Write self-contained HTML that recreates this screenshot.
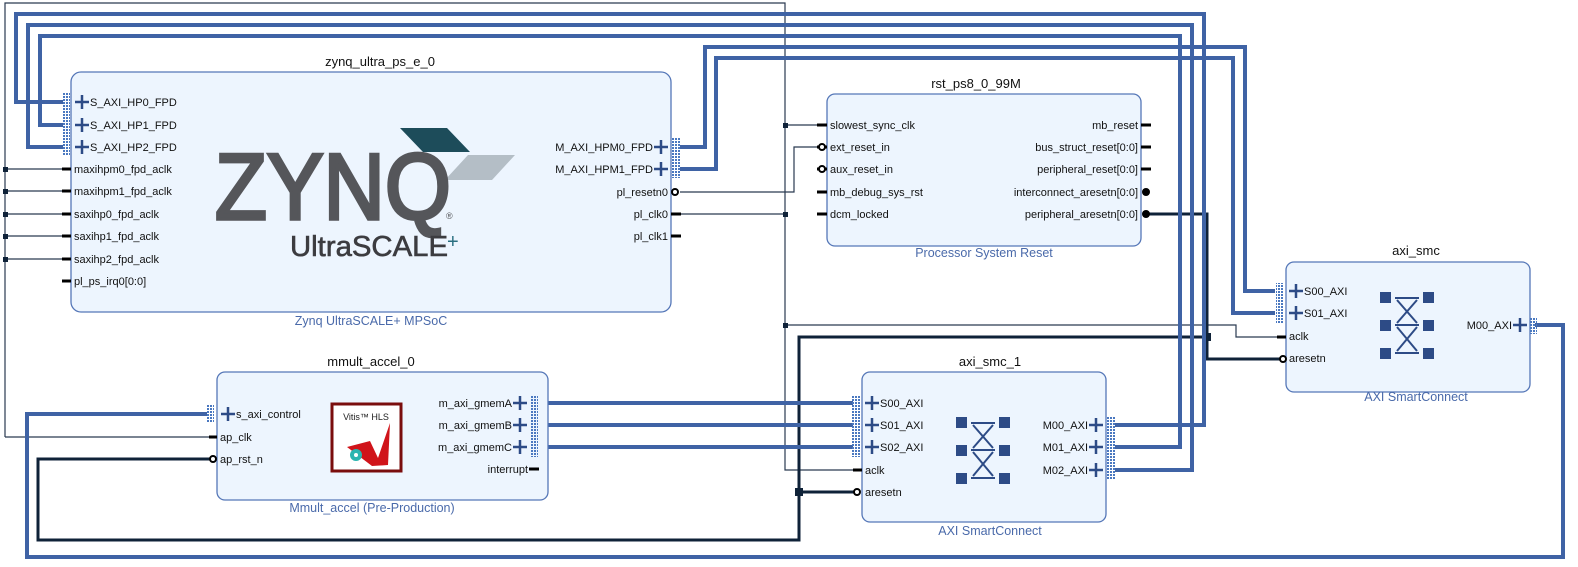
<!DOCTYPE html>
<html><head><meta charset="utf-8"><style>
html,body{margin:0;padding:0;background:#fff;}
svg{display:block;font-family:"Liberation Sans",sans-serif;}
.t{font-size:11px;fill:#111;}
.ti{font-size:13px;fill:#111;text-anchor:middle;}
.st{font-size:12.5px;fill:#4a6aaa;text-anchor:middle;}
.box{fill:#edf5fe;stroke:#5577b8;stroke-width:1.3;}
.bus{fill:none;stroke:#3f63a5;stroke-width:4;}
.thin{fill:none;stroke:#2a3a50;stroke-width:1.2;}
.thick{fill:none;stroke:#0f2238;stroke-width:3;}
.pl{stroke:#2d4b86;stroke-width:2.5;}
.stub{stroke:#000;stroke-width:3;}
</style></head><body>
<svg width="1578" height="567" viewBox="0 0 1578 567">
<defs>
<pattern id="dots" width="3" height="3" patternUnits="userSpaceOnUse"><rect width="2" height="2" fill="#4a78c0"/></pattern>
<g id="plus"><line class="pl" x1="-7" y1="0" x2="7" y2="0"/><line class="pl" x1="0" y1="-7" x2="0" y2="7"/></g>
</defs>

<path class="thin" d="M5,437 V3 H785 V470 H862"/>
<path class="thin" d="M5,169 H71 M5,191 H71 M5,214 H71 M5,236 H71 M5,259 H71 M5,437 H217"/>
<path class="thin" d="M675,214 H785 M785,125 H827 M785,325 H1236 V337 H1286"/>
<path class="thin" d="M680,192 H794 V147 H822"/>
<g fill="#0f2238">
<rect x="3" y="167" width="5" height="5"/><rect x="3" y="189" width="5" height="5"/><rect x="3" y="212" width="5" height="5"/><rect x="3" y="234" width="5" height="5"/><rect x="3" y="257" width="5" height="5"/>
<rect x="783" y="123" width="5" height="5"/><rect x="783" y="212" width="5" height="5"/><rect x="783" y="323" width="5" height="5"/>
</g>

<path class="thick" d="M1146,214 H1207 V359 H1283"/>
<path class="thick" d="M1207,337 H799 V540 H38 V459 H212"/>
<path class="thick" d="M799,492 H857"/>
<rect x="1203" y="333" width="8" height="8" fill="#0f2238"/>
<rect x="795" y="488" width="8" height="8" fill="#0f2238"/>

<path class="bus" d="M63,102 H16 V14 H1204 V425 H1115"/>
<path class="bus" d="M63,147 H28 V25 H1192 V470 H1115"/>
<path class="bus" d="M63,125 H40 V36 H1180 V447 H1115"/>
<path class="bus" d="M680,147 H705 V47 H1245 V291 H1275"/>
<path class="bus" d="M680,169 H716 V58 H1233 V313 H1275"/>
<path class="bus" d="M1535,325 H1563 V557 H27 V414 H207"/>
<path class="bus" d="M537,403 H853 M537,425 H853 M537,447 H853"/>

<text class="ti" x="380" y="66">zynq_ultra_ps_e_0</text>
<rect class="box" x="71" y="72" width="600" height="240" rx="10"/>
<text class="st" x="371" y="325">Zynq UltraSCALE+ MPSoC</text>
<rect x="62" y="93" width="8" height="63" fill="url(#dots)"/>
<use href="#plus" x="82" y="102"/><use href="#plus" x="82" y="125"/><use href="#plus" x="82" y="147"/>
<text class="t" x="90" y="106">S_AXI_HP0_FPD</text>
<text class="t" x="90" y="129">S_AXI_HP1_FPD</text>
<text class="t" x="90" y="151">S_AXI_HP2_FPD</text>
<g class="stub"><line x1="62" y1="169" x2="71" y2="169"/><line x1="62" y1="191" x2="71" y2="191"/><line x1="62" y1="214" x2="71" y2="214"/><line x1="62" y1="236" x2="71" y2="236"/><line x1="62" y1="259" x2="71" y2="259"/><line x1="62" y1="281" x2="71" y2="281"/></g>
<text class="t" x="74" y="173">maxihpm0_fpd_aclk</text>
<text class="t" x="74" y="195">maxihpm1_fpd_aclk</text>
<text class="t" x="74" y="218">saxihp0_fpd_aclk</text>
<text class="t" x="74" y="240">saxihp1_fpd_aclk</text>
<text class="t" x="74" y="263">saxihp2_fpd_aclk</text>
<text class="t" x="74" y="285">pl_ps_irq0[0:0]</text>
<g text-anchor="end">
<text class="t" x="653" y="151">M_AXI_HPM0_FPD</text>
<text class="t" x="653" y="173">M_AXI_HPM1_FPD</text>
<text class="t" x="668" y="196">pl_resetn0</text>
<text class="t" x="668" y="218">pl_clk0</text>
<text class="t" x="668" y="240">pl_clk1</text>
</g>
<use href="#plus" x="661" y="147"/><use href="#plus" x="661" y="169"/>
<rect x="672" y="138" width="8" height="40" fill="url(#dots)"/>
<circle cx="675" cy="192" r="3" fill="#fff" stroke="#000" stroke-width="2"/>
<g class="stub"><line x1="671" y1="214" x2="681" y2="214"/><line x1="671" y1="236" x2="681" y2="236"/></g>
<polygon points="400,128 447,128 470,152 423,152" fill="#1d4c5a"/>
<polygon points="468,155 515,155 492,180 445,180" fill="#b4bec6"/>
<text x="215" y="219" font-size="94" fill="#55565a" stroke="#55565a" stroke-width="3.5" textLength="236" lengthAdjust="spacingAndGlyphs">ZYNQ</text>
<text x="446" y="219" font-size="9" fill="#55565a">®</text>
<text x="290" y="256" font-size="29" fill="#3c3c40" stroke="#3c3c40" stroke-width="0.6" textLength="158" lengthAdjust="spacingAndGlyphs">UltraSCALE</text>
<text x="447" y="248" font-size="20" fill="#2a6f80">+</text>

<text class="ti" x="976" y="88">rst_ps8_0_99M</text>
<rect class="box" x="827" y="94" width="314" height="152" rx="8"/>
<text class="st" x="984" y="257">Processor System Reset</text>
<g class="stub"><line x1="817" y1="125" x2="827" y2="125"/><line x1="817" y1="169" x2="827" y2="169"/><line x1="817" y1="192" x2="827" y2="192"/><line x1="817" y1="214" x2="827" y2="214"/>
<line x1="1141" y1="125" x2="1151" y2="125"/><line x1="1141" y1="147" x2="1151" y2="147"/><line x1="1141" y1="169" x2="1151" y2="169"/></g>
<line x1="817" y1="147" x2="827" y2="147" class="stub"/>
<circle cx="822" cy="147" r="3" fill="#fff" stroke="#000" stroke-width="2"/>
<circle cx="822" cy="169" r="3" fill="#fff" stroke="#000" stroke-width="2"/>
<circle cx="1146" cy="192" r="4" fill="#000"/><circle cx="1146" cy="214" r="4" fill="#000"/>
<text class="t" x="830" y="129">slowest_sync_clk</text>
<text class="t" x="830" y="151">ext_reset_in</text>
<text class="t" x="830" y="173">aux_reset_in</text>
<text class="t" x="830" y="196">mb_debug_sys_rst</text>
<text class="t" x="830" y="218">dcm_locked</text>
<g text-anchor="end">
<text class="t" x="1138" y="129">mb_reset</text>
<text class="t" x="1138" y="151">bus_struct_reset[0:0]</text>
<text class="t" x="1138" y="173">peripheral_reset[0:0]</text>
<text class="t" x="1138" y="196">interconnect_aresetn[0:0]</text>
<text class="t" x="1138" y="218">peripheral_aresetn[0:0]</text>
</g>

<text class="ti" x="1416" y="255">axi_smc</text>
<rect class="box" x="1286" y="262" width="244" height="130" rx="8"/>
<text class="st" x="1416" y="401">AXI SmartConnect</text>
<rect x="1276" y="283" width="8" height="40" fill="url(#dots)"/>
<use href="#plus" x="1296" y="291"/><use href="#plus" x="1296" y="313"/>
<text class="t" x="1304" y="295">S00_AXI</text>
<text class="t" x="1304" y="317">S01_AXI</text>
<line class="stub" x1="1277" y1="337" x2="1286" y2="337"/>
<text class="t" x="1289" y="340">aclk</text>
<circle cx="1283" cy="359" r="3" fill="#fff" stroke="#000" stroke-width="2"/>
<text class="t" x="1289" y="362">aresetn</text>
<text class="t" x="1512" y="329" text-anchor="end">M00_AXI</text>
<use href="#plus" x="1520" y="325"/>
<rect x="1530" y="317" width="7" height="17" fill="url(#dots)"/>
<g id="xbar" transform="translate(1380,292)" fill="#2d4b86">
<rect x="0" y="0" width="11" height="11"/><rect x="43" y="0" width="11" height="11"/>
<rect x="0" y="28" width="11" height="11"/><rect x="43" y="28" width="11" height="11"/>
<rect x="0" y="56" width="11" height="11"/><rect x="43" y="56" width="11" height="11"/>
<g stroke="#2d4b86" stroke-width="2"><line x1="15" y1="6" x2="39" y2="6"/><line x1="15" y1="33" x2="39" y2="33"/><line x1="15" y1="61" x2="39" y2="61"/>
<line x1="17" y1="8" x2="37" y2="31"/><line x1="37" y1="8" x2="17" y2="31"/><line x1="17" y1="35" x2="37" y2="59"/><line x1="37" y1="35" x2="17" y2="59"/></g>
</g>

<text class="ti" x="990" y="366">axi_smc_1</text>
<rect class="box" x="862" y="372" width="244" height="150" rx="8"/>
<text class="st" x="990" y="535">AXI SmartConnect</text>
<rect x="852" y="395" width="8" height="62" fill="url(#dots)"/>
<use href="#plus" x="872" y="403"/><use href="#plus" x="872" y="425"/><use href="#plus" x="872" y="447"/>
<text class="t" x="880" y="407">S00_AXI</text>
<text class="t" x="880" y="429">S01_AXI</text>
<text class="t" x="880" y="451">S02_AXI</text>
<line class="stub" x1="853" y1="470" x2="862" y2="470"/>
<text class="t" x="865" y="474">aclk</text>
<circle cx="857" cy="492" r="3" fill="#fff" stroke="#000" stroke-width="2"/>
<text class="t" x="865" y="496">aresetn</text>
<g text-anchor="end"><text class="t" x="1088" y="429">M00_AXI</text><text class="t" x="1088" y="451">M01_AXI</text><text class="t" x="1088" y="474">M02_AXI</text></g>
<use href="#plus" x="1096" y="425"/><use href="#plus" x="1096" y="447"/><use href="#plus" x="1096" y="470"/>
<rect x="1107" y="417" width="8" height="62" fill="url(#dots)"/>
<use href="#xbar" transform="translate(-424,125)"/>

<text class="ti" x="371" y="366">mmult_accel_0</text>
<rect class="box" x="217" y="372" width="331" height="128" rx="8"/>
<text class="st" x="372" y="512">Mmult_accel (Pre-Production)</text>
<rect x="207" y="405" width="7" height="18" fill="url(#dots)"/>
<use href="#plus" x="228" y="414"/>
<text class="t" x="236" y="418">s_axi_control</text>
<line class="stub" x1="209" y1="437" x2="217" y2="437"/>
<text class="t" x="220" y="441">ap_clk</text>
<circle cx="213" cy="459" r="3" fill="#fff" stroke="#000" stroke-width="2"/>
<text class="t" x="220" y="463">ap_rst_n</text>
<g text-anchor="end"><text class="t" x="512" y="407">m_axi_gmemA</text><text class="t" x="512" y="429">m_axi_gmemB</text><text class="t" x="512" y="451">m_axi_gmemC</text><text class="t" x="528" y="473">interrupt</text></g>
<use href="#plus" x="520" y="403"/><use href="#plus" x="520" y="425"/><use href="#plus" x="520" y="447"/>
<rect x="530" y="395" width="8" height="62" fill="url(#dots)"/>
<line class="stub" x1="529" y1="469" x2="539" y2="469"/>
<rect x="332" y="404" width="69" height="67" fill="#fff" stroke="#7a0d0d" stroke-width="3"/>
<text x="366" y="420" font-size="9" fill="#222" text-anchor="middle">Vitis™ HLS</text>
<polygon points="347,447 370,441 378,458 390,423 388,465 372,466" fill="#d0141a"/>
<circle cx="356" cy="455" r="6" fill="#2bb5b0"/><circle cx="356" cy="455" r="2" fill="#fff"/>
</svg>
</body></html>
